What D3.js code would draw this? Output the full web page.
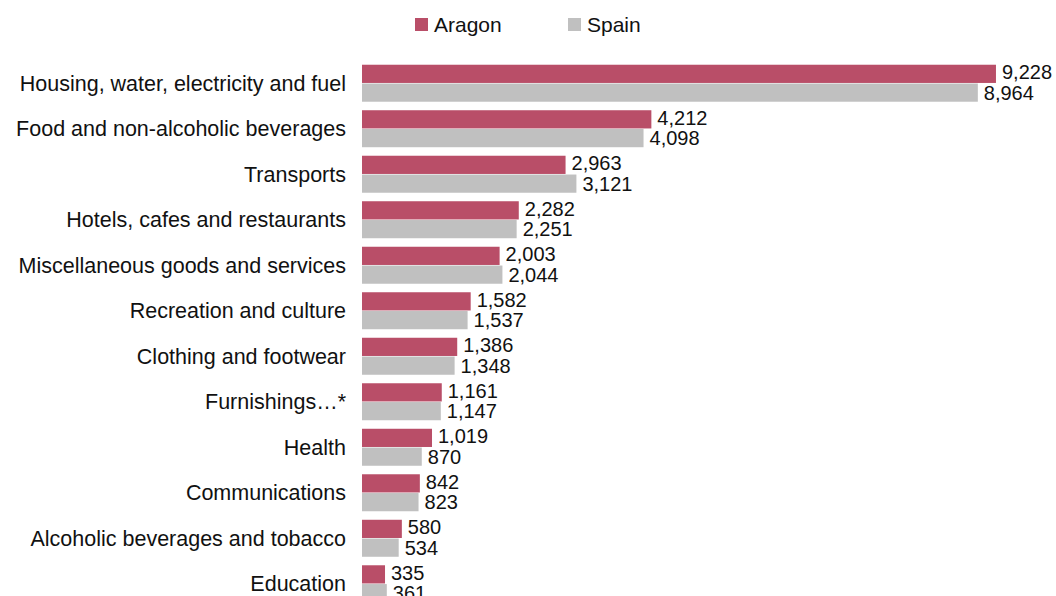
<!DOCTYPE html>
<html>
<head>
<meta charset="utf-8">
<title>Household spending</title>
<script src="https://d3js.org/d3.v7.min.js"></script>
<style>
  body { margin: 0; background: #fff; }
  text { font-family: "Liberation Sans", Arial, sans-serif; fill: #111; }
</style>
</head>
<body>
<div id="chart"></div>
<script>
// data
var categories = ["Housing, water, electricity and fuel", "Food and non-alcoholic beverages",
  "Transports", "Hotels, cafes and restaurants", "Miscellaneous goods and services",
  "Recreation and culture", "Clothing and footwear", "Furnishings\u2026*", "Health",
  "Communications", "Alcoholic beverages and tobacco", "Education"];
var aragon = [9228, 4212, 2963, 2282, 2003, 1582, 1386, 1161, 1019, 842, 580, 335];
var spain  = [8964, 4098, 3121, 2251, 2044, 1537, 1348, 1147, 870, 823, 534, 361];
var seriesNames = ["Aragon", "Spain"];
var colors = ["#b94e68", "#c0c0c0"];

var W = 1056, H = 596;
var left = 362, step = 45.5, top0 = 60.5;

var svg = d3.select("#chart").append("svg")
    .attr("width", W).attr("height", H);

var rows = categories.map(function(c, i) {
  return {cat: c, vals: [aragon[i], spain[i]]};
});

var x = d3.scaleLinear().domain([0, 10000]).range([left, left + 687]);
var y = d3.scaleBand().domain(categories)
    .range([top0, top0 + step * categories.length])
    .paddingInner(0.187).paddingOuter(0.093);
var ySub = d3.scaleBand().domain(seriesNames)
    .range([0, y.bandwidth()]).paddingInner(0.03);

var fmt = d3.format(",");

// category labels
svg.append("g").selectAll("text")
  .data(rows).enter().append("text")
    .attr("x", 346)
    .attr("y", function(d) { return y(d.cat) + y.bandwidth() / 2; })
    .attr("dy", "0.35em")
    .attr("text-anchor", "end")
    .style("font-size", "21.5px")
    .text(function(d) { return d.cat; });

var groups = svg.append("g").selectAll("g")
  .data(rows).enter().append("g")
    .attr("transform", function(d) { return "translate(0," + y(d.cat) + ")"; });

groups.selectAll("rect")
  .data(function(d) { return d.vals.map(function(v, k) { return {s: seriesNames[k], v: v, k: k}; }); })
  .enter().append("rect")
    .attr("x", x(0))
    .attr("y", function(d) { return ySub(d.s); })
    .attr("width", function(d) { return x(d.v) - x(0); })
    .attr("height", ySub.bandwidth())
    .attr("fill", function(d) { return colors[d.k]; });

groups.selectAll("text")
  .data(function(d) { return d.vals.map(function(v, k) { return {s: seriesNames[k], v: v, k: k}; }); })
  .enter().append("text")
    .attr("x", function(d) { return x(d.v) + 6; })
    .attr("y", function(d) { return ySub(d.s) + ySub.bandwidth() / 2 - (d.k === 0 ? 1.5 : 0); })
    .attr("dy", "0.35em")
    .style("font-size", "20px")
    .text(function(d) { return fmt(d.v); });

// legend
var legX = [415, 568];
var legend = svg.append("g").selectAll("g")
  .data(seriesNames).enter().append("g")
    .attr("transform", function(d, i) { return "translate(" + legX[i] + ",18)"; });
legend.append("rect")
    .attr("width", 13).attr("height", 13)
    .attr("fill", function(d, i) { return colors[i]; });
legend.append("text")
    .attr("x", 19).attr("y", 6.5).attr("dy", "0.35em")
    .style("font-size", "21px")
    .text(function(d) { return d; });
</script>
</body>
</html>
